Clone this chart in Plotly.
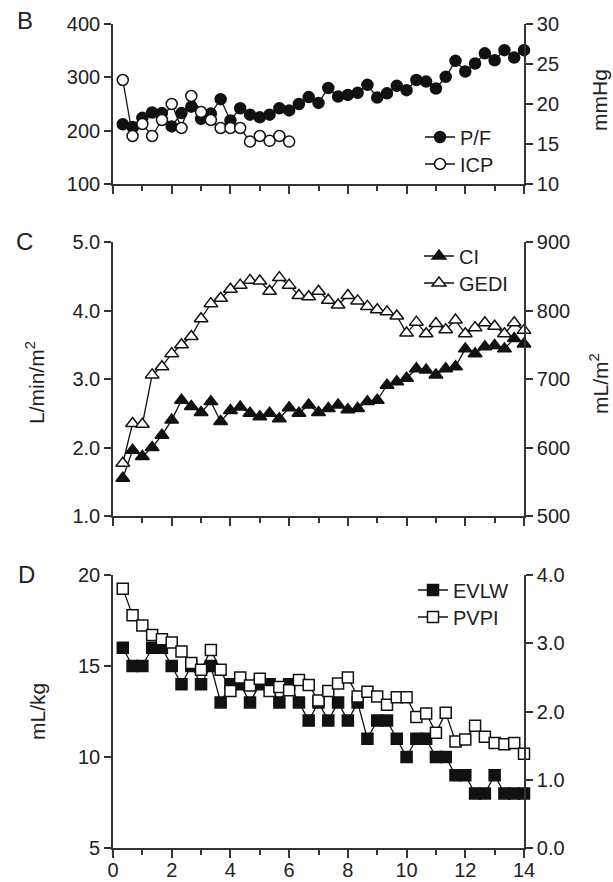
import plotly.graph_objects as go

# Sampling times (days): one reading every 8 h from day 1/3 to day 14
days = [k / 3 for k in range(1, 43)]
icp_days = days[:18]

# Panel B
pf = [212, 207, 224, 234, 233, 208, 233, 245, 222, 232, 259, 219, 242, 230,
      225, 230, 242, 238, 250, 263, 252, 280, 264, 267, 271, 286, 262, 270,
      284, 276, 295, 292, 279, 301, 331, 311, 326, 345, 332, 351, 337, 351]
icp = [23, 16, 17.5, 16, 18, 20, 17, 21, 19, 18, 17, 17, 17, 15.3, 16, 15.4,
       16, 15.3]

# Panel C
ci = [1.55, 1.96, 1.87, 2.00, 2.18, 2.40, 2.69, 2.60, 2.51, 2.67, 2.38, 2.54,
      2.59, 2.50, 2.45, 2.50, 2.42, 2.58, 2.50, 2.62, 2.51, 2.57, 2.62, 2.55,
      2.57, 2.67, 2.69, 2.91, 2.96, 3.01, 3.15, 3.13, 3.06, 3.15, 3.18, 3.44,
      3.37, 3.47, 3.49, 3.44, 3.59, 3.51]
gedi = [577, 635, 634, 706, 718, 737, 750, 762, 788, 810, 818, 831, 837, 844,
        843, 828, 848, 837, 822, 820, 828, 815, 808, 822, 814, 806, 801, 798,
        792, 767, 783, 766, 781, 772, 786, 766, 775, 782, 777, 766, 782, 771]

# Panel D
evlw = [16, 15, 15, 16, 16, 15, 14, 15, 14, 15, 13, 14, 14, 13, 14, 14, 13,
        14, 13, 12, 13, 12, 13, 12, 13, 11, 12, 12, 11, 10, 11, 11, 10, 10,
        9, 9, 8, 8, 9, 8, 8, 8]
pvpi = [3.80, 3.41, 3.26, 3.12, 3.06, 3.01, 2.88, 2.71, 2.61, 2.90, 2.61,
        2.30, 2.50, 2.38, 2.48, 2.30, 2.36, 2.31, 2.46, 2.39, 2.16, 2.30,
        2.41, 2.50, 2.22, 2.29, 2.22, 2.10, 2.21, 2.21, 1.92, 1.97, 1.69,
        1.98, 1.56, 1.59, 1.79, 1.63, 1.54, 1.52, 1.54, 1.38]

x_ticks = list(range(0, 15, 2))

FONT = "Liberation Sans, Arial, Helvetica, sans-serif"
INK = "#222222"
AX = "#333333"

# pixel geometry of the plotting area
L, R, T, B = 113, 524, 24, 848
W, H = R - L, B - T


def px(x):
    return (x - L) / W


def py(y):
    return (B - y) / H


def series(x, y, name, symbol, filled, xa, ya, legend):
    return go.Scatter(
        x=x, y=y, name=name, mode="lines+markers", xaxis=xa, yaxis=ya,
        legend=legend, cliponaxis=False,
        line=dict(color="#111111", width=1.3),
        marker=dict(symbol=symbol, size=11 if symbol != "triangle-up" else 12,
                    color="#111111" if filled else "white",
                    line=dict(color="#111111", width=1.5)),
    )


fig = go.Figure()
fig.add_trace(series(days, pf, "P/F", "circle", True, "x", "y", "legend"))
fig.add_trace(series(icp_days, icp, "ICP", "circle", False, "x", "y2", "legend2"))
fig.add_trace(series(days, ci, "CI", "triangle-up", True, "x2", "y3", "legend3"))
fig.add_trace(series(days, gedi, "GEDI", "triangle-up", False, "x2", "y4", "legend4"))
fig.add_trace(series(days, evlw, "EVLW", "square", True, "x3", "y5", "legend5"))
fig.add_trace(series(days, pvpi, "PVPI", "square", False, "x3", "y6", "legend6"))

tickfont = dict(family=FONT, size=20, color=INK)


def xax(anchor, labels):
    d = dict(
        domain=[0, 1], anchor=anchor, range=[0, 14], tickvals=x_ticks,
        showticklabels=labels, ticks="outside", ticklen=8, tickwidth=1.5,
        tickcolor=AX, showline=True, linecolor=AX, linewidth=1.6,
        showgrid=False, zeroline=False, tickfont=tickfont, automargin=False,
        minor=dict(dtick=1, tick0=0, ticks="outside", ticklen=5,
                   tickwidth=1.5, tickcolor=AX, showgrid=False),
    )
    if labels:
        d["ticklabelstandoff"] = -5
    return d


def yax(dom, rng, dtick, anchor, fmt=None, side="left", overlay=None):
    d = dict(
        range=rng, dtick=dtick, tick0=rng[0], anchor=anchor, side=side,
        ticks="outside", ticklen=7, tickwidth=1.5, tickcolor=AX,
        showline=True, linecolor=AX, linewidth=1.6, showgrid=False,
        zeroline=False, tickfont=tickfont, automargin=False,
    )
    if fmt:
        d["tickformat"] = fmt
    if overlay:
        d["overlaying"] = overlay
    else:
        d["domain"] = dom
    return d


domB = [py(184), 1.0]
domC = [py(516), py(242)]
domD = [0.0, py(575)]

legend_style = dict(font=dict(family=FONT, size=20, color=INK),
                    bgcolor="rgba(0,0,0,0)", borderwidth=0,
                    xanchor="left", yanchor="middle", tracegroupgap=0)


def leg(xpix, ypix):
    d = dict(legend_style)
    d.update(x=px(xpix), y=py(ypix))
    return d


annotations = []


def note(text, xpix, ypix, size=20, angle=0):
    annotations.append(dict(
        text=text, x=px(xpix), y=py(ypix), xref="paper", yref="paper",
        showarrow=False, textangle=angle, xanchor="center", yanchor="middle",
        font=dict(family=FONT, size=size, color=INK)))


note("B", 25, 20, size=24)
note("C", 24, 241, size=24)
note("D", 26, 574, size=24)
note("mmHg", 600, 100, size=21, angle=-90)
note("L/min/m<sup>2</sup>", 35, 383, size=21, angle=-90)
note("mL/m<sup>2</sup>", 599, 384, size=21, angle=-90)
note("mL/kg", 37, 712, size=21, angle=-90)

fig.update_layout(
    width=613, height=882,
    margin=dict(l=L, r=613 - R, t=T, b=882 - B, pad=0, autoexpand=False),
    paper_bgcolor="white", plot_bgcolor="white",
    showlegend=True,
    xaxis=xax("y", False),
    xaxis2=xax("y3", False),
    xaxis3=xax("y5", True),
    yaxis=yax(domB, [100, 400], 100, "x"),
    yaxis2=yax(None, [10, 30], 5, "x", side="right", overlay="y"),
    yaxis3=yax(domC, [1, 5], 1, "x2", fmt=".1f"),
    yaxis4=yax(None, [500, 900], 100, "x2", side="right", overlay="y3"),
    yaxis5=yax(domD, [5, 20], 5, "x3"),
    yaxis6=yax(None, [0, 4], 1, "x3", fmt=".1f", side="right", overlay="y5"),
    legend=leg(420, 137),
    legend2=leg(420, 164),
    legend3=leg(419, 256),
    legend4=leg(419, 283),
    legend5=leg(413, 590),
    legend6=leg(413, 617),
    annotations=annotations,
)

fig.write_html("out.html")
